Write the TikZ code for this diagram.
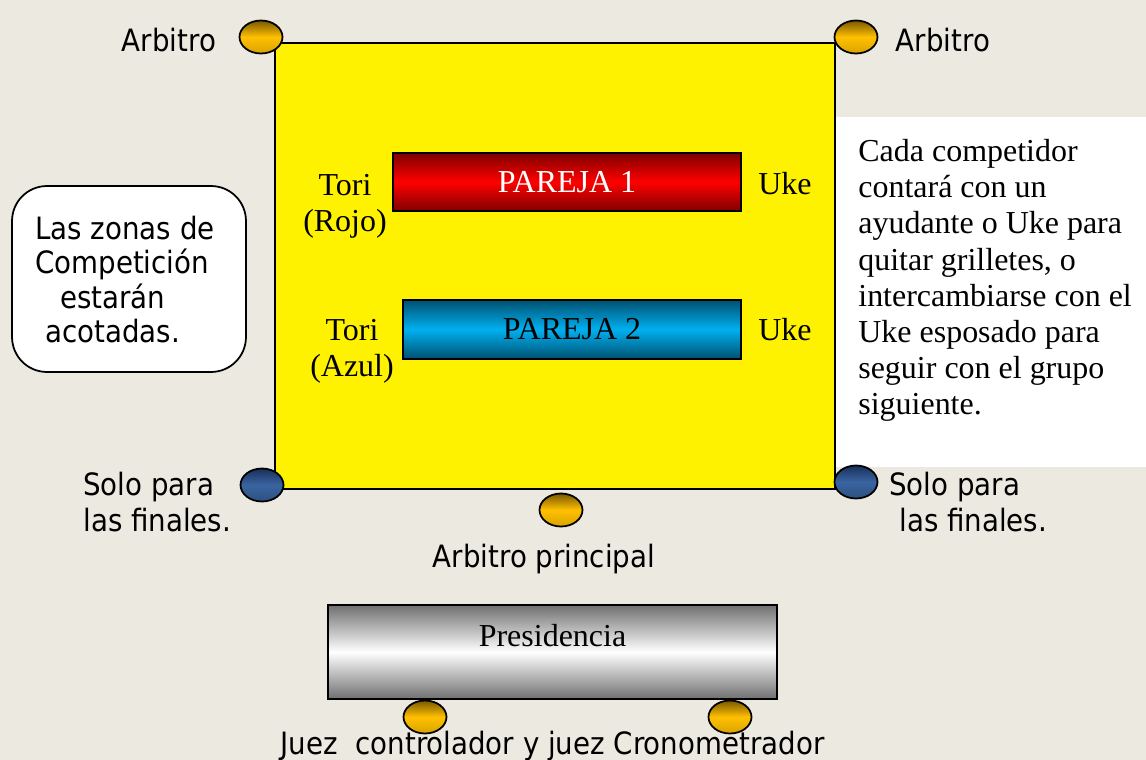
\documentclass[tikz,border=0pt]{standalone}
\usepackage{fontspec}
\setmainfont{Liberation Serif}
\setsansfont{DejaVu Sans}[FakeStretch=0.9]
\usetikzlibrary{shapes.geometric}

\definecolor{paper}{RGB}{236,233,224}
\definecolor{judgegold}{RGB}{255,192,0}
\definecolor{judgedark}{RGB}{122,88,0}
\definecolor{finalblue}{RGB}{58,100,160}
\definecolor{finaldark}{RGB}{24,48,90}
\definecolor{pairblue}{RGB}{0,176,240}
\definecolor{pairbluedark}{RGB}{0,80,112}
\definecolor{deskgrey}{RGB}{112,112,112}

\tikzset{
    judge/.style={ellipse, draw, line width=1pt, minimum width=0.86cm,
        minimum height=0.66cm, inner sep=0pt, top color=judgedark,
        bottom color=judgegold!85!black, middle color=judgegold},
    finaljudge/.style={judge, top color=finaldark, bottom color=finalblue!80!black,
        middle color=finalblue},
    pair/.style={rectangle, draw, line width=1pt, inner sep=0pt,
        font=\rmfamily\fontsize{18.2}{20.6}\selectfont},
    sanstext/.style={font=\sffamily\fontsize{17.5}{20.5}\selectfont, inner sep=0pt},
    seriftext/.style={font=\rmfamily\fontsize{18.2}{20.6}\selectfont, inner sep=0pt}
}

\begin{document}
\begin{tikzpicture}[x=0.02cm, y=-0.02cm]
    \useasboundingbox (0, 0) rectangle (1146, 760);
    \fill [paper] (0, 0) rectangle (1146, 760);
    \fill [white] (835, 117) rectangle (1146, 467);
    \draw [fill=yellow, line width=1pt] (275, 43) rectangle (835, 489);

    \node [pair, minimum width=6.96cm, minimum height=1.16cm, text=white,
        top color=red!50!black, bottom color=red!50!black, middle color=red]
        (pair1) at (567, 182) {PAREJA 1};
    \node [pair, minimum width=6.76cm, minimum height=1.18cm,
        top color=pairbluedark, bottom color=pairbluedark, middle color=pairblue]
        (pair2) at (572, 329.5) {PAREJA 2};
    \node [seriftext, align=center] (tori1) at (345, 206) {Tori\\(Rojo)};
    \node [seriftext, anchor=base] (uke1) at (785, 195) {Uke};
    \node [seriftext, align=center] (tori2) at (352, 351) {Tori\\(Azul)};
    \node [seriftext, anchor=base] (uke2) at (785, 340) {Uke};

    \node [judge] (arbL) at (261, 37) {};
    \node [judge] (arbR) at (856, 37) {};
    \node [finaljudge] (finL) at (262, 485) {};
    \node [finaljudge] (finR) at (856, 482) {};
    \node [judge] (arbMain) at (561, 510) {};
    \node [sanstext, anchor=base] (arbLtext) at (169, 52) {Arbitro};
    \node [sanstext, anchor=base] (arbRtext) at (943, 52) {Arbitro};
    \node [sanstext, anchor=north west, align=left] (finLtext) at (83, 472)
        {Solo para\\las finales.};
    \node [sanstext, anchor=north west, align=left] (finRtext) at (889, 472)
        {Solo para\\\hspace*{0.2cm}las finales.};
    \node [sanstext, anchor=base] (arbMaintext) at (544, 567) {Arbitro principal};

    \node [draw, fill=white, line width=1pt, rounded corners=0.7cm,
        minimum width=4.68cm, minimum height=3.72cm] (zones) at (129, 279) {};
    \node [sanstext, anchor=north west, align=left,
        font=\sffamily\fontsize{17.5}{19.5}\selectfont] (zonestext) at (35, 216)
        {Las zonas de\\Competición\\\hspace*{0.5cm}estarán\\\hspace*{0.2cm}acotadas.};

    \node [seriftext, anchor=north west, align=left] (ruletext) at (858, 139)
        {Cada competidor\\contará con un\\ayudante o Uke para\\quitar grilletes, o\\
        intercambiarse con el\\Uke esposado para\\seguir con el grupo\\siguiente.};

    \node [pair, minimum width=8.98cm, minimum height=1.88cm,
        top color=deskgrey, bottom color=deskgrey, middle color=white]
        (desk) at (552.5, 652) {};
    \node [seriftext] (desktext) at ([yshift=0.32cm]desk.center) {Presidencia};
    \node [judge] (judgeA) at (425, 717) {};
    \node [judge] (judgeB) at (730, 717) {};
    \node [sanstext, anchor=base] (judgestext) at (552.5, 754)
        {Juez\ \ controlador y juez Cronometrador};
\end{tikzpicture}
\end{document}
